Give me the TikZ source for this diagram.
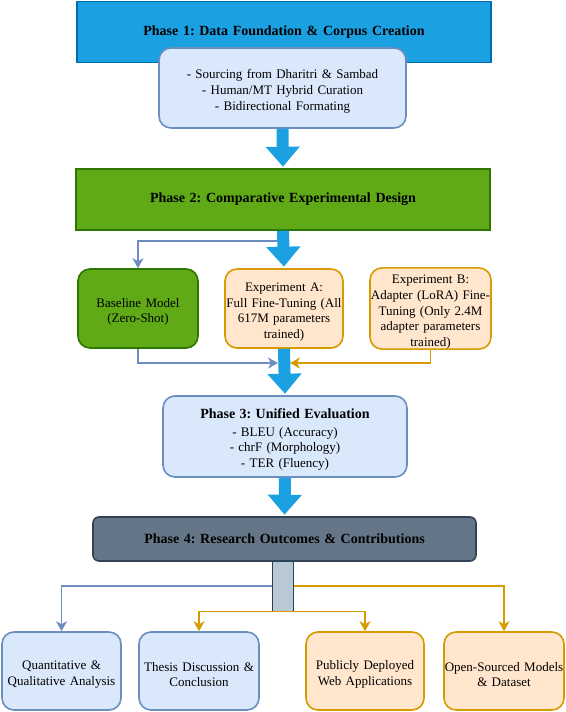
\documentclass[tikz,border=0pt]{standalone}
\usepackage{fontspec}
\setmainfont{Liberation Serif}
\usepackage{xcolor}
\usetikzlibrary{arrows.meta}
\definecolor{bluefill}{HTML}{1BA1E2}
\definecolor{blueline}{HTML}{006EAF}
\definecolor{lightfill}{HTML}{DAE8FC}
\definecolor{lightline}{HTML}{6C8EBF}
\definecolor{greenfill}{HTML}{60A917}
\definecolor{greenline}{HTML}{2D7600}
\definecolor{orangefill}{HTML}{FFE6CC}
\definecolor{orangeline}{HTML}{D79B00}
\definecolor{slatefill}{HTML}{647687}
\definecolor{slateline}{HTML}{314354}
\definecolor{hubfill}{HTML}{BAC8D3}
\definecolor{hubline}{HTML}{23445D}
\newcommand{\titlefont}{\fontsize{14pt}{16.8pt}\selectfont\bfseries}
\pgfdeclarelayer{nodelayer}
\pgfdeclarelayer{edgelayer}
\pgfsetlayers{nodelayer,edgelayer,main}
\tikzset{
    box/.style = {draw, line width=1.6pt, inner sep=0pt, align=center,
        font=\fontsize{13pt}{15.6pt}\selectfont},
    stage/.style = {box, font=\titlefont},
    % the strut pushes the lines a little lower, as in the original
    soft/.style = {box, rounded corners=12pt,
        execute at begin node={\rule{0pt}{16pt}}},
    bluebox/.style = {soft, fill=lightfill, draw=lightline},
    orangebox/.style = {soft, fill=orangefill, draw=orangeline},
    flow/.style = {draw=bluefill, line width=12pt,
        -{Triangle[width=33pt,length=20pt]}, shorten >=1.5pt},
    bluelink/.style = {draw=lightline, line width=1.6pt,
        -{Stealth[length=10pt,width=11pt,inset=3pt]}},
    orangelink/.style = {draw=orangeline, line width=1.6pt,
        -{Stealth[length=10pt,width=11pt,inset=3pt]}}
}

\begin{document}
\frenchspacing
\begin{tikzpicture}[x=1pt, y=-1pt]
    \useasboundingbox (0, 0) rectangle (565, 712);
    \begin{pgfonlayer}{nodelayer}
        % phases
        \node [style=stage, fill=bluefill, draw=blueline, text width=414pt, minimum height=61pt] (p1) at (284, 32) {Phase 1: Data Foundation \& Corpus Creation};
        \node [style=bluebox, text width=247pt, minimum height=80pt] (p1d) at (282.5, 88) {- Sourcing from Dharitri \& Sambad\\- Human/MT Hybrid Curation\\- Bidirectional Formating};
        \node [style=stage, fill=greenfill, draw=greenline, text width=414pt, minimum height=61pt] (p2) at (283, 199.5) {Phase 2: Comparative Experimental Design};
        \node [style=soft, fill=greenfill, draw=greenline, text width=120pt, minimum height=79pt] (base) at (138, 308.5) {Baseline Model\\(Zero-Shot)};
        \node [style=orangebox, text width=118pt, minimum height=79pt] (expa) at (284, 308.5) {Experiment A:\\Full Fine-Tuning (All\\617M parameters\\trained)};
        \node [style=orangebox, text width=121pt, minimum height=79pt] (expb) at (430.5, 308.5) {Experiment B:\\Adapter (LoRA) Fine-\\Tuning (Only 2.4M\\adapter parameters\\trained)};
        \node [style=bluebox, text width=244pt, minimum height=81pt] (p3) at (285, 436.5) {{\titlefont Phase 3: Unified Evaluation}\\[1.5pt]- BLEU (Accuracy)\\- chrF (Morphology)\\- TER (Fluency)};
        \node [style=stage, rounded corners=6pt, fill=slatefill, draw=slateline, text width=383pt, minimum height=44pt] (p4) at (284.5, 539) {Phase 4: Research Outcomes \& Contributions};
        \node [style=box, fill=hubfill, draw=hubline, line width=1pt, text width=21pt, minimum height=50pt] (hub) at (282.5, 586) {};
        % outcomes
        \node [style=bluebox, text width=119pt, minimum height=78pt] (out1) at (61.5, 671) {Quantitative \&\\Qualitative Analysis};
        \node [style=bluebox, text width=120pt, minimum height=78pt] (out2) at (199, 671) {Thesis Discussion \&\\Conclusion};
        \node [style=orangebox, text width=118pt, minimum height=78pt] (out3) at (365, 671) {Publicly Deployed\\Web Applications};
        \node [style=orangebox, text width=120pt, minimum height=78pt] (out4) at (504, 671) {Open-Sourced Models\\\& Dataset};
        % fork and join points on the main arrows
        \coordinate (fork) at (278, 241);
        \coordinate (joinl) at (278, 363);
        \coordinate (joinr) at (290, 363);
    \end{pgfonlayer}
    \begin{pgfonlayer}{edgelayer}
        \draw [style=bluelink] (fork) -| (base.north);
        \draw [style=bluelink] (base.south) |- (joinl);
        \draw [style=orangelink] (expb.south) |- (joinr);
        \draw [style=flow] (p1d.south) to (p2.north);
        \draw [style=flow] (p2.south) to (expa.north);
        \draw [style=flow] (expa.south) to (p3.north);
        \draw [style=flow] (p3.south) to (p4.north);
        \draw [style=bluelink] (hub.west) -| (out1.north);
        \draw [style=orangelink] (hub.south) -| (out2.north);
        \draw [style=orangelink] (hub.south) -| (out3.north);
        \draw [style=orangelink] (hub.east) -| (out4.north);
    \end{pgfonlayer}
\end{tikzpicture}
\end{document}
